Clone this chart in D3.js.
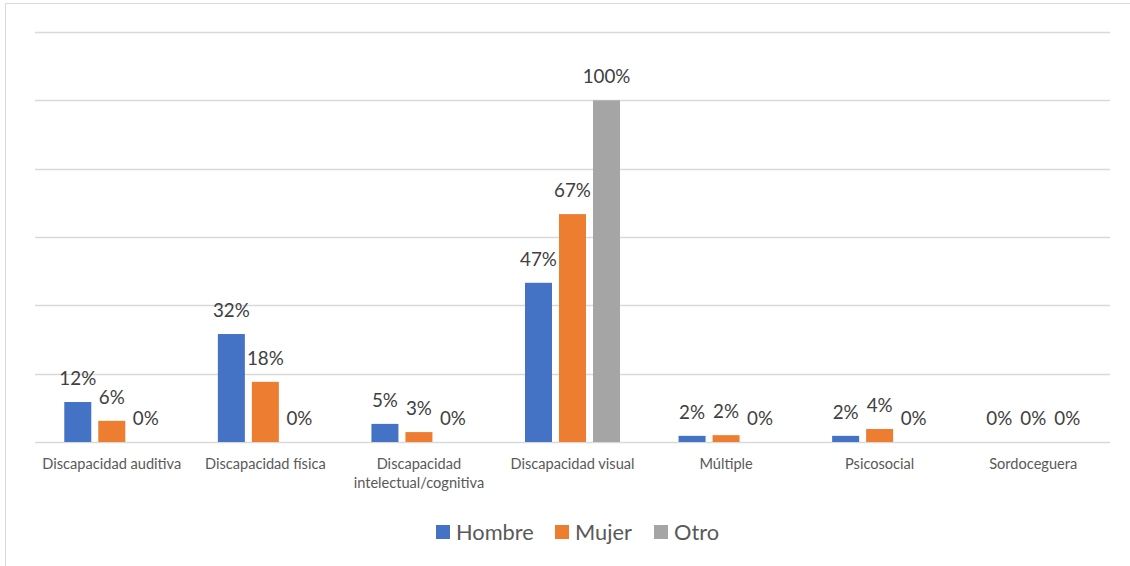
<!DOCTYPE html>
<html><head><meta charset="utf-8">
<script src="https://cdn.jsdelivr.net/npm/d3@7"></script>
<style>
html,body{margin:0;padding:0;background:#fff;}
svg{display:block;font-family:Lato,"Open Sans",sans-serif;}
</style></head>
<body>
<svg id="chart" width="1130" height="566"></svg>
<script>
const categories = ["Discapacidad auditiva","Discapacidad física","Discapacidad intelectual/cognitiva","Discapacidad visual","Múltiple","Psicosocial","Sordoceguera"];
const categoryLines = [["Discapacidad auditiva"],["Discapacidad física"],["Discapacidad","intelectual/cognitiva"],["Discapacidad visual"],["Múltiple"],["Psicosocial"],["Sordoceguera"]];
const seriesNames = ["Hombre","Mujer","Otro"];
const hombre = [11.7, 31.6, 5.3, 46.6, 1.8, 1.8, 0];
const mujer = [6.2, 17.6, 2.9, 66.7, 2.0, 3.8, 0];
const otro = [0, 0, 0, 100, 0, 0, 0];
const yTicks = [0, 20, 40, 60, 80, 100, 120];
const colors = ["#4472C4","#ED7D31","#A5A5A5"];

const seriesValues = [hombre, mujer, otro];
const svg = d3.select("#chart");

// outer chart border (top & left visible)
svg.append("line").attr("x1",5.5).attr("x2",1130).attr("y1",3.5).attr("y2",3.5).attr("stroke","#d9d9d9").attr("stroke-width",1);
svg.append("line").attr("x1",5.5).attr("x2",5.5).attr("y1",3.5).attr("y2",566).attr("stroke","#d9d9d9").attr("stroke-width",1);

const mLeft = 35, mRight = 1110, mTop = 32, mBottom = 442;
const x0 = d3.scaleBand().domain(categories).range([mLeft, mRight]).padding(0);
const x1 = d3.scaleBand().domain(seriesNames).range([-47.5, 47.5]).paddingInner(0.206);
const y = d3.scaleLinear().domain([0, 120]).range([mBottom, mTop]);

// gridlines
svg.append("g").selectAll("line").data(yTicks).join("line")
  .attr("x1", mLeft).attr("x2", mRight)
  .attr("y1", d => Math.round(y(d)) + 0.5).attr("y2", d => Math.round(y(d)) + 0.5)
  .attr("stroke", "#d9d9d9").attr("stroke-width", 1.5);

// bars
const data = [];
categories.forEach((c, i) => seriesNames.forEach((s, j) => data.push({c, s, j, v: seriesValues[j][i]})));

const cx = d => x0(d.c) + x0.bandwidth()/2 + x1(d.s);
svg.append("g").selectAll("rect").data(data.filter(d => d.v > 0)).join("rect")
  .attr("x", cx)
  .attr("width", x1.bandwidth())
  .attr("y", d => y(d.v))
  .attr("height", d => y(0) - y(d.v))
  .attr("fill", d => colors[d.j]);

// value labels
svg.append("g").selectAll("text").data(data).join("text")
  .attr("x", d => cx(d) + x1.bandwidth()/2)
  .attr("y", d => y(d.v) - 17)
  .attr("text-anchor", "middle")
  .attr("fill", "#404040")
  .attr("font-size", "18.8px")
  .text(d => Math.round(d.v) + "%");

// category labels
const cat = svg.append("g").selectAll("text").data(categories).join("text")
  .attr("x", d => x0(d) + x0.bandwidth()/2)
  .attr("y", 469)
  .attr("text-anchor", "middle")
  .attr("fill", "#595959")
  .attr("font-size", "14.6px");
cat.each(function(d, i) {
  d3.select(this).selectAll("tspan").data(categoryLines[i]).join("tspan")
    .attr("x", x0(d) + x0.bandwidth()/2)
    .attr("dy", (t, k) => k === 0 ? 0 : 19)
    .text(t => t);
});

// legend
const legendX = [436, 555, 654];
const lg = svg.append("g").selectAll("g").data(seriesNames).join("g")
  .attr("transform", (d, i) => `translate(${legendX[i]},525)`);
lg.append("rect").attr("width", 14).attr("height", 14).attr("fill", (d, i) => colors[i]);
lg.append("text").attr("x", 20).attr("y", 14.5).attr("fill", "#595959").attr("font-size", "21.8px").text(d => d);
</script>
</body></html>
